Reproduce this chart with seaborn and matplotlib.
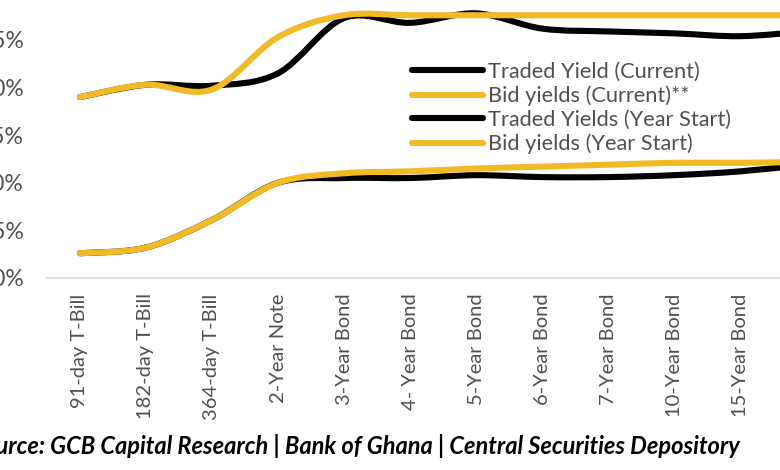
import numpy as np
import pandas as pd
import seaborn as sns
import matplotlib.pyplot as plt
from matplotlib.path import Path
from matplotlib.patches import PathPatch
from matplotlib.lines import Line2D

tenors = ["91-day T-Bill", "182-day T-Bill", "364-day T-Bill", "2-Year Note",
          "3-Year Bond", "4- Year Bond", "5-Year Bond", "6-Year Bond",
          "7-Year Bond", "10-Year Bond", "15-Year Bond", "20-Year Bond"]

traded_current = [29.0, 30.3, 30.2, 31.5, 37.3, 36.8, 37.8, 36.2, 35.9, 35.7, 35.4, 35.9]
bid_current = [29.0, 30.3, 29.8, 35.3, 37.6, 37.6, 37.6, 37.6, 37.6, 37.6, 37.6, 37.6]
traded_start = [12.6, 13.2, 16.1, 20.0, 20.5, 20.5, 20.8, 20.6, 20.6, 20.8, 21.2, 21.9]
bid_start = [12.6, 13.2, 16.1, 20.0, 21.0, 21.2, 21.5, 21.7, 21.9, 22.1, 22.1, 22.2]

names = ["Traded Yield (Current)", "Bid yields (Current)**",
         "Traded Yields (Year Start)", "Bid yields (Year Start)"]
BLACK = "#000000"
GOLD = "#F2BA27"
GREY = "#505050"

df = pd.DataFrame({
    "tenor": tenors,
    "pos": range(len(tenors)),
    names[0]: traded_current,
    names[1]: bid_current,
    names[2]: traded_start,
    names[3]: bid_start,
})
long = df.melt(id_vars=["tenor", "pos"], var_name="series", value_name="yield")

# year start pair first so that current lines sit on top, gold over black
draw_order = [names[2], names[3], names[0], names[1]]
palette = {names[0]: BLACK, names[1]: GOLD, names[2]: BLACK, names[3]: GOLD}


def smooth_path(x, y):
    # excel-like smoothed line: catmull-rom segments as cubic beziers
    pts = np.column_stack([x, y]).astype(float)
    ext = np.vstack([pts[0], pts, pts[-1]])
    verts = [pts[0]]
    codes = [Path.MOVETO]
    for i in range(len(pts) - 1):
        p0, p1, p2, p3 = ext[i], ext[i + 1], ext[i + 2], ext[i + 3]
        verts += [p1 + (p2 - p0) / 6, p2 - (p3 - p1) / 6, p2]
        codes += [Path.CURVE4] * 3
    return Path(verts, codes)


sns.set_theme(style="white")
plt.rcParams["font.family"] = ["Lato", "DejaVu Sans"]

fig = plt.figure(figsize=(7.8, 4.7), dpi=100)
ax = fig.add_axes([47 / 780, 192 / 470, 792 / 780, 285.6 / 470])

sns.lineplot(data=long, x="pos", y="yield", hue="series", hue_order=draw_order,
             palette=palette, linewidth=4.4, legend=False, sort=False, ax=ax)

for line in list(ax.lines):
    lx, ly = line.get_data()
    ax.add_patch(PathPatch(smooth_path(lx, ly), fill=False, edgecolor=line.get_color(),
                           lw=line.get_linewidth(), capstyle="round", joinstyle="round",
                           zorder=2))
    line.remove()

ax.set_xlim(-0.5, len(tenors) - 0.5)
ax.set_ylim(10, 40)
ax.set_yticks(range(10, 40, 5))
ax.set_yticklabels([f"{v}%" for v in range(10, 40, 5)])
ax.set_xticks(range(len(tenors)))
ax.set_xticklabels(tenors, rotation=90)
ax.set_xlabel("")
ax.set_ylabel("")
ax.tick_params(axis="y", length=0, pad=16.5, labelsize=16.5, labelcolor=GREY)
ax.tick_params(axis="x", length=0, pad=11, labelsize=14.5, labelcolor=GREY)
for side in ["top", "right", "left"]:
    ax.spines[side].set_visible(False)
ax.spines["bottom"].set_color("#D9D9D9")
ax.spines["bottom"].set_linewidth(1.2)
ax.grid(False)

handles = [Line2D([], [], color=c, lw=4.4, solid_capstyle="round")
           for c in [BLACK, GOLD, BLACK, GOLD]]
leg = fig.legend(handles, names, loc="upper left", bbox_to_anchor=(412 / 780, 1 - 62 / 470),
                 frameon=False, fontsize=15.7, labelcolor=GREY, handlelength=3.25,
                 handletextpad=0.25, labelspacing=0.17, borderpad=0, borderaxespad=0)

fig.text(740 / 780, 1 - 446 / 470,
         "Source: GCB Capital Research | Bank of Ghana | Central Securities Depository",
         ha="right", va="center", fontsize=17, fontweight="bold", fontstyle="italic",
         color="#000000")

fig.savefig("out.png", dpi=100)
